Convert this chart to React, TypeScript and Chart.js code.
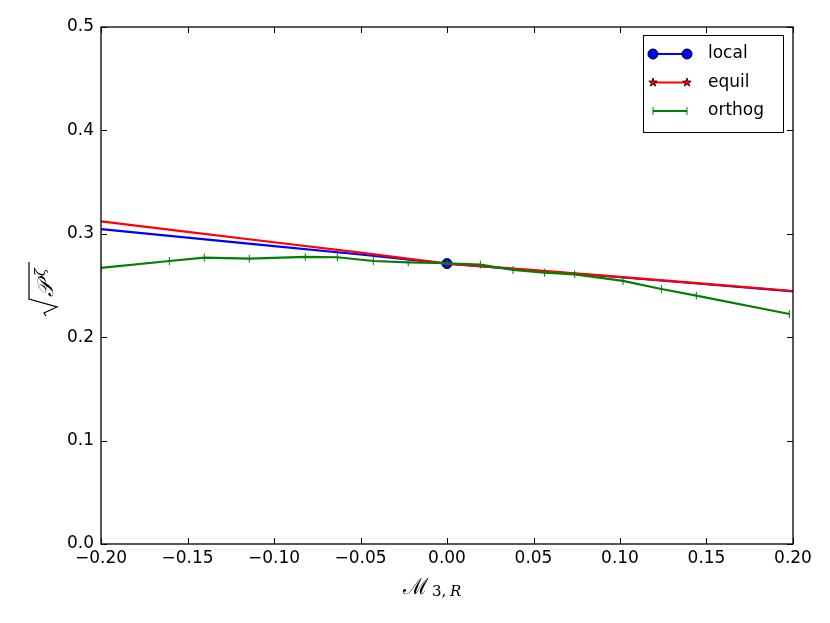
import React, { useRef, useEffect } from 'react';
import { Chart, registerables } from 'chart.js';

Chart.register(...registerables);

// smooth-line series (local / equil), sampled along M_{3,R}
const lineX = [-0.2, -0.15, -0.1, -0.05, 0, 0.05, 0.1, 0.15, 0.2];
const localY = [0.3046, 0.2963, 0.288, 0.28, 0.2712, 0.2645, 0.258, 0.2512, 0.2443];
const equilY = [0.312, 0.3018, 0.2918, 0.2818, 0.2712, 0.2648, 0.2583, 0.2515, 0.2447];

// orthog series (marked points)
const orthogX = [-0.2, -0.1605, -0.1403, -0.1143, -0.0819, -0.0634, -0.0426, -0.0224, 0, 0.0193, 0.0382, 0.0564, 0.0738, 0.1017, 0.1239, 0.1441, 0.1979];
const orthogY = [0.267, 0.2737, 0.2769, 0.276, 0.2776, 0.2773, 0.2737, 0.2724, 0.2715, 0.2702, 0.265, 0.2624, 0.2608, 0.2544, 0.2466, 0.2402, 0.2224];

const seriesNames = ['local', 'equil', 'orthog'];
const seriesColors = ['#0000ff', '#ff0000', '#008000'];

const FONT = '"DejaVu Sans", sans-serif';

const fmt = (v: number, d: number) => {
  const n = Math.abs(v) < 1e-9 ? 0 : v;
  return n.toFixed(d).replace('-', '\u2212');
};

const drawStar = (ctx: CanvasRenderingContext2D, x: number, y: number, r: number) => {
  ctx.beginPath();
  for (let i = 0; i < 10; i++) {
    const rr = i % 2 === 0 ? r : r * 0.4;
    const a = -Math.PI / 2 + (i * Math.PI) / 5;
    const px = x + rr * Math.cos(a);
    const py = y + rr * Math.sin(a);
    if (i === 0) ctx.moveTo(px, py);
    else ctx.lineTo(px, py);
  }
  ctx.closePath();
  ctx.fillStyle = '#ff0000';
  ctx.fill();
  ctx.lineWidth = 0.8;
  ctx.strokeStyle = '#000';
  ctx.stroke();
};

const framePlugin = {
  id: 'frameTicksLabels',
  afterDraw(chart: any) {
    const { ctx, chartArea: a, scales } = chart;
    ctx.save();
    // inward ticks
    ctx.strokeStyle = '#000';
    ctx.lineWidth = 1;
    scales.x.ticks.forEach((t: any) => {
      const px = Math.round(scales.x.getPixelForValue(t.value)) + 0.5;
      ctx.beginPath();
      ctx.moveTo(px, a.bottom);
      ctx.lineTo(px, a.bottom - 6);
      ctx.moveTo(px, a.top);
      ctx.lineTo(px, a.top + 6);
      ctx.stroke();
    });
    scales.y.ticks.forEach((t: any) => {
      const py = Math.round(scales.y.getPixelForValue(t.value)) + 0.5;
      ctx.beginPath();
      ctx.moveTo(a.left, py);
      ctx.lineTo(a.left + 6, py);
      ctx.moveTo(a.right, py);
      ctx.lineTo(a.right - 6, py);
      ctx.stroke();
    });
    // frame
    ctx.lineWidth = 1.3;
    ctx.strokeRect(a.left, a.top, a.right - a.left, a.bottom - a.top);

    // x axis label  M_{3,R}
    ctx.fillStyle = '#000';
    ctx.textBaseline = 'alphabetic';
    ctx.textAlign = 'left';
    ctx.font = '22px "DejaVu Serif", serif';
    ctx.fillText('\u2133', 403, 594);
    ctx.font = '15px "DejaVu Serif", serif';
    ctx.fillText('3,', 432, 596);
    ctx.font = 'italic 15px "DejaVu Serif", serif';
    ctx.fillText('R', 450, 596);

    // y axis label sqrt(P_zeta)
    ctx.save();
    ctx.translate(53, 288);
    ctx.rotate(-Math.PI / 2);
    ctx.lineWidth = 1.2;
    ctx.beginPath();
    ctx.moveTo(-28, -7);
    ctx.lineTo(-25, -9);
    ctx.lineTo(-19, 4);
    ctx.lineTo(-11, -24);
    ctx.lineTo(26, -24);
    ctx.stroke();
    ctx.font = 'italic 22px "DejaVu Serif", serif';
    ctx.fillText('\u{1D4AB}', -9, 0);
    ctx.font = 'italic 14px "DejaVu Serif", serif';
    ctx.fillText('\u03B6', 12, -8);
    ctx.restore();

    // legend
    const lx = 643, ly = 35, lw = 140, lh = 97;
    ctx.fillStyle = '#fff';
    ctx.fillRect(lx, ly, lw, lh);
    ctx.lineWidth = 1;
    ctx.strokeStyle = '#000';
    ctx.strokeRect(lx + 0.5, ly + 0.5, lw, lh);
    const rows = [54, 82.5, 111];
    seriesNames.forEach((name, i) => {
      const y = rows[i];
      const x0 = 653, x1 = 687;
      ctx.strokeStyle = seriesColors[i];
      ctx.lineWidth = 2.2;
      ctx.beginPath();
      ctx.moveTo(x0, y);
      ctx.lineTo(x1, y);
      ctx.stroke();
      [x0, x1].forEach((mx) => {
        if (i === 0) {
          ctx.beginPath();
          ctx.arc(mx, y, 5, 0, Math.PI * 2);
          ctx.fillStyle = '#0000ff';
          ctx.fill();
          ctx.lineWidth = 1;
          ctx.strokeStyle = '#000';
          ctx.stroke();
        } else if (i === 1) {
          drawStar(ctx, mx, y, 4.5);
        } else {
          ctx.strokeStyle = '#008000';
          ctx.lineWidth = 1;
          ctx.beginPath();
          ctx.moveTo(mx, y - 4);
          ctx.lineTo(mx, y + 4);
          ctx.stroke();
        }
      });
      ctx.fillStyle = '#000';
      ctx.font = '17px ' + FONT;
      ctx.textBaseline = 'middle';
      ctx.fillText(name, 708, y);
    });
    ctx.restore();
  },
};

const App: React.FC = () => {
  const canvasRef = useRef<HTMLCanvasElement>(null);
  const chartRef = useRef<Chart | null>(null);

  useEffect(() => {
    document.body.style.margin = '0';
    if (!canvasRef.current) return;
    if (chartRef.current) chartRef.current.destroy();
    const ctx = canvasRef.current.getContext('2d');
    if (!ctx) return;

    chartRef.current = new Chart(ctx, {
      type: 'line',
      data: {
        datasets: [
          {
            label: 'local',
            data: lineX.map((x, i) => ({ x, y: localY[i] })),
            borderColor: seriesColors[0],
            borderWidth: 2.2,
            pointRadius: (c: any) => (c.raw && c.raw.x === 0 ? 5 : 0),
            pointBackgroundColor: '#0000ff',
            pointBorderColor: '#000',
            pointBorderWidth: 1,
            order: 3,
          },
          {
            label: 'equil',
            data: lineX.map((x, i) => ({ x, y: equilY[i] })),
            borderColor: seriesColors[1],
            borderWidth: 2.2,
            pointRadius: 0,
            order: 2,
          },
          {
            label: 'orthog',
            data: orthogX.map((x, i) => ({ x, y: orthogY[i] })),
            borderColor: seriesColors[2],
            borderWidth: 2.2,
            pointStyle: 'line',
            rotation: 90,
            pointRadius: 4,
            pointBorderColor: '#008000',
            pointBorderWidth: 1,
            order: 1,
          },
        ],
      },
      options: {
        responsive: false,
        animation: false,
        layout: { padding: { left: 0, top: 27, right: 37, bottom: 0 } },
        plugins: {
          legend: { display: false },
          tooltip: { enabled: false },
        },
        scales: {
          x: {
            type: 'linear',
            min: -0.2,
            max: 0.2,
            grid: { display: false, drawTicks: false },
            border: { display: false },
            ticks: {
              stepSize: 0.05,
              padding: 4,
              color: '#000',
              font: { family: FONT, size: 17 },
              maxRotation: 0,
              callback: (v: any) => fmt(Number(v), 2),
            },
            afterFit: (s: any) => {
              s.height = 79;
            },
          },
          y: {
            type: 'linear',
            min: 0,
            max: 0.5,
            grid: { display: false, drawTicks: false },
            border: { display: false },
            ticks: {
              stepSize: 0.1,
              padding: 7,
              color: '#000',
              font: { family: FONT, size: 17 },
              callback: (v: any) => fmt(Number(v), 1),
            },
            afterFit: (s: any) => {
              s.width = 101;
            },
          },
        },
      },
      plugins: [framePlugin],
    });

    return () => {
      if (chartRef.current) chartRef.current.destroy();
    };
  }, []);

  return (
    <div style={{ width: 830, height: 623, background: '#fff' }}>
      <canvas ref={canvasRef} width={830} height={623} />
    </div>
  );
};

export default App;
